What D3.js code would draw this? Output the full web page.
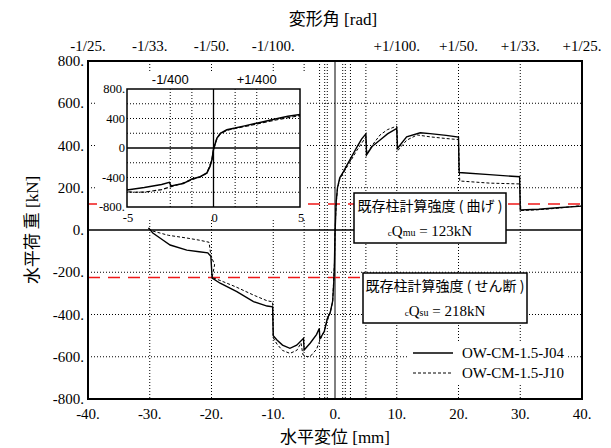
<!DOCTYPE html>
<html>
<head>
<meta charset="utf-8">
<script src="https://cdn.jsdelivr.net/npm/d3@7"></script>
<style>
  body { margin: 0; background: #fff; }
</style>
</head>
<body>
<div id="chart"></div>
<script>
// tick values and labels
const xTicks = [-40, -30, -20, -10, 0, 10, 20, 30, 40];
const yTicks = [-800, -600, -400, -200, 0, 200, 400, 600, 800];
const radTicks = [-40, -30, -20, -10, 10, 20, 30, 40];
const radLabels = ["-1/25.", "-1/33.", "-1/50.", "-1/100.", "+1/100.", "+1/50.", "+1/33.", "+1/25."];
const xGrid = [-30, -20, -10, -5, -2.5, -1.67, -1.25, 1.25, 1.67, 2.5, 5, 10, 20, 30];
const yGrid = [-600, -400, -200, 200, 400, 600];

// inset ticks
const insetXTicks = [-5, 0, 5];
const insetYTicks = [-800, -400, 0, 400, 800];
const insetXGrid = [-2.5, -1.25, 1.25, 2.5];
const insetYGrid = [-600, -400, -200, 200, 400, 600];
const insetRadTicks = [-2.5, 2.5];
const insetRadLabels = ["-1/400", "+1/400"];

// calculated strengths (kN)
const Qmu = 123;
const Qsu = -225;

// envelope curves [displacement mm, load kN]
const J04 = [
  [-30.2, 10], [-29.5, -14], [-28, -45], [-26.7, -71], [-24, -95], [-22, -103], [-20.6, -108],
  [-20.1, -125], [-19.9, -228], [-18.6, -252], [-15.9, -292], [-13.2, -339], [-11, -360],
  [-10.1, -364], [-10.0, -500], [-9.4, -521], [-8.5, -545], [-7.3, -560], [-6.2, -545],
  [-5.1, -513], [-5.0, -568], [-4.0, -535], [-3.0, -495], [-2.55, -466], [-2.45, -515],
  [-1.75, -482], [-1.25, -420], [-0.77, -390], [-0.38, -337], [-0.2, -250], [-0.09, -158],
  [0, -20], [0.1, 60], [0.2, 135], [0.4, 200], [0.77, 247], [1.25, 270], [1.8, 300],
  [2.5, 337], [3.5, 390], [4.3, 430], [5.0, 455], [5.1, 355], [6, 395], [7.3, 426],
  [8.5, 455], [10, 481], [10.1, 386], [11.6, 441], [13.8, 460], [15.4, 456], [18, 448],
  [20, 440], [20.1, 272], [25, 262], [29.9, 252], [30, 95], [33, 98], [36, 105], [40, 113]
];
const J10 = [
  [-30.2, 8], [-29.5, -5], [-27, -25], [-24, -38], [-22, -48], [-20.4, -58], [-20.1, -120],
  [-19.5, -165], [-19.9, -225], [-18.5, -240], [-16, -270], [-13.2, -308], [-11, -335],
  [-10.1, -340], [-10.0, -510], [-9.4, -540], [-8.5, -570], [-7.3, -584], [-6.2, -570],
  [-5.5, -535], [-5.2, -590], [-4.5, -600], [-4.0, -598], [-3.0, -565], [-2.5, -527],
  [-1.8, -480], [-1.25, -430], [-0.77, -392], [-0.38, -340], [-0.09, -160], [0, -20],
  [0.1, 60], [0.2, 130], [0.4, 195], [0.77, 240], [1.25, 265], [1.8, 292], [2.5, 325],
  [3.5, 375], [4.3, 410], [5.0, 440], [5.2, 360], [6, 400], [7.3, 450], [8.5, 475],
  [10, 492], [10.2, 377], [11.6, 425], [13.3, 450], [15.4, 441], [18, 433], [20, 428],
  [20.2, 232], [25, 222], [29.9, 218], [30.1, 92], [33, 96], [36, 103], [40, 116]
];

const SERIF = "Liberation Serif";
const SANS = "Liberation Sans";
const CJK = "Noto Sans CJK JP";

const W = 611, H = 448;
const svg = d3.select("#chart").append("svg")
  .attr("width", W).attr("height", H);

const x = d3.scaleLinear().domain([-40, 40]).range([88, 582]);
const y = d3.scaleLinear().domain([-800, 800]).range([399, 61]);

// helper: plain text label
function label(g, px, py, txt, font, size, anchor) {
  return g.append("text").attr("x", px).attr("y", py)
    .attr("font-family", font).style("font-family", font)
    .attr("font-size", size).attr("text-anchor", anchor || "middle")
    .attr("fill", "#000").text(txt);
}

// grid
const grid = svg.append("g").attr("stroke", "#000").attr("stroke-width", 1).attr("stroke-dasharray", "1,2");
grid.selectAll(".gx").data(xGrid).enter().append("line")
  .attr("x1", d => x(d)).attr("x2", d => x(d)).attr("y1", y(800)).attr("y2", y(-800));
grid.selectAll(".gy").data(yGrid).enter().append("line")
  .attr("x1", x(-40)).attr("x2", x(40)).attr("y1", d => y(d)).attr("y2", d => y(d));

// zero lines
svg.append("line").attr("x1", x(-40)).attr("x2", x(40)).attr("y1", y(0)).attr("y2", y(0))
  .attr("stroke", "#000").attr("stroke-width", 1.5);
svg.append("line").attr("x1", x(0)).attr("x2", x(0)).attr("y1", y(800)).attr("y2", y(-800))
  .attr("stroke", "#000").attr("stroke-width", 1);

// strength lines
svg.append("line").attr("x1", x(-40)).attr("x2", x(40)).attr("y1", y(Qmu)).attr("y2", y(Qmu))
  .attr("stroke", "#f01818").attr("stroke-width", 1.5).attr("stroke-dasharray", "12,8");
svg.append("line").attr("x1", x(-40)).attr("x2", x(5)).attr("y1", y(Qsu)).attr("y2", y(Qsu))
  .attr("stroke", "#f01818").attr("stroke-width", 1.5).attr("stroke-dasharray", "12,8");

// curves
const line = d3.line().x(d => x(d[0])).y(d => y(d[1]));
svg.append("path").datum(J04).attr("d", line)
  .attr("fill", "none").attr("stroke", "#000").attr("stroke-width", 1.4);
svg.append("path").datum(J10).attr("d", line)
  .attr("fill", "none").attr("stroke", "#000").attr("stroke-width", 1).attr("stroke-dasharray", "3,2");

// tick labels
const ticks = svg.append("g");
xTicks.forEach(d => label(ticks, x(d), y(-800) + 20, d + ".", SERIF, 15));
yTicks.forEach(d => label(ticks, x(-40) - 4, y(d) + 5, d + ".", SERIF, 15, "end"));
radTicks.forEach((d, i) => label(ticks, x(d), y(800) - 10, radLabels[i], SERIF, 15));

// titles
function title(px, py, cjk, rest, rot) {
  const t = svg.append("text").attr("font-size", 17).attr("text-anchor", "middle")
    .attr("font-family", SERIF).style("font-family", SERIF);
  if (rot) t.attr("transform", `translate(${px},${py}) rotate(-90)`);
  else t.attr("x", px).attr("y", py);
  t.append("tspan").attr("font-family", CJK).style("font-family", CJK).text(cjk);
  t.append("tspan").text(rest);
}
title(333, 25, "変形角", " [rad]");
title(335, 443, "水平変位", " [mm]");
title(38, 230, "水平荷 重", " [kN]", true);

// inset
const ix = d3.scaleLinear().domain([-5, 5]).range([127, 300]);
const iy = d3.scaleLinear().domain([-800, 800]).range([207, 89]);
const inset = svg.append("g");
inset.append("rect").attr("x", 97).attr("y", 73).attr("width", 209).attr("height", 146).attr("fill", "#fff");
inset.append("clipPath").attr("id", "iclip").append("rect")
  .attr("x", ix(-5)).attr("y", iy(800)).attr("width", ix(5) - ix(-5)).attr("height", iy(-800) - iy(800));
const ig = inset.append("g").attr("stroke", "#000").attr("stroke-width", 1).attr("stroke-dasharray", "1,2");
ig.selectAll(".ix").data(insetXGrid).enter().append("line")
  .attr("x1", d => ix(d)).attr("x2", d => ix(d)).attr("y1", iy(800)).attr("y2", iy(-800));
ig.selectAll(".iy").data(insetYGrid).enter().append("line")
  .attr("x1", ix(-5)).attr("x2", ix(5)).attr("y1", d => iy(d)).attr("y2", d => iy(d));
inset.append("line").attr("x1", ix(-5)).attr("x2", ix(5)).attr("y1", iy(0)).attr("y2", iy(0))
  .attr("stroke", "#000").attr("stroke-width", 1.3);
inset.append("line").attr("x1", ix(0)).attr("x2", ix(0)).attr("y1", iy(800)).attr("y2", iy(-800))
  .attr("stroke", "#000").attr("stroke-width", 1.3);
const iline = d3.line().x(d => ix(d[0])).y(d => iy(d[1]));
const ic = inset.append("g").attr("clip-path", "url(#iclip)");
ic.append("path").datum(J04).attr("d", iline)
  .attr("fill", "none").attr("stroke", "#000").attr("stroke-width", 1.5);
ic.append("path").datum(J10).attr("d", iline)
  .attr("fill", "none").attr("stroke", "#000").attr("stroke-width", 1.2).attr("stroke-dasharray", "4,2");
inset.append("rect").attr("x", ix(-5)).attr("y", iy(800))
  .attr("width", ix(5) - ix(-5)).attr("height", iy(-800) - iy(800))
  .attr("fill", "none").attr("stroke", "#000").attr("stroke-width", 1.5);
insetYTicks.forEach(d => label(inset, ix(-5) - 2, iy(d) + 4, d + (Math.abs(d) === 800 ? "." : ""), SERIF, 12.5, "end"));
insetXTicks.forEach(d => label(inset, ix(d) + 1, iy(-800) + 15, d, SERIF, 12.5));
insetRadTicks.forEach((d, i) => label(inset, ix(d), iy(800) - 5, insetRadLabels[i], SANS, 13));

// annotation boxes
function note(bx, by, bw, bh, head, sub, val) {
  const g = svg.append("g");
  g.append("rect").attr("x", bx).attr("y", by).attr("width", bw).attr("height", bh)
    .attr("fill", "#fff").attr("stroke", "#000").attr("stroke-width", 1.5);
  label(g, bx + bw / 2, by + 18, head, CJK, 14);
  const t = label(g, bx + bw / 2, by + 43, "", SERIF, 15);
  t.append("tspan").attr("font-size", 9).text("c");
  t.append("tspan").text("Q");
  t.append("tspan").attr("font-size", 10).text(sub);
  t.append("tspan").text(" = " + val + "kN");
}
note(354, 193, 152, 50, "既存柱計算強度 ( 曲げ )", "mu", Qmu);
note(363, 273, 164, 50, "既存柱計算強度 ( せん断 )", "su", 218);

// legend
const lg = svg.append("g");
lg.append("rect").attr("x", 407).attr("y", 341).attr("width", 161).attr("height", 44).attr("fill", "#fff");
lg.append("line").attr("x1", 413).attr("x2", 453).attr("y1", 353).attr("y2", 353)
  .attr("stroke", "#000").attr("stroke-width", 1.4);
lg.append("line").attr("x1", 413).attr("x2", 453).attr("y1", 373).attr("y2", 373)
  .attr("stroke", "#000").attr("stroke-width", 1).attr("stroke-dasharray", "3,2");
label(lg, 462, 358, "OW-CM-1.5-J04", SERIF, 15, "start");
label(lg, 462, 378, "OW-CM-1.5-J10", SERIF, 15, "start");

// frame
svg.append("rect").attr("x", x(-40)).attr("y", y(800))
  .attr("width", x(40) - x(-40)).attr("height", y(-800) - y(800))
  .attr("fill", "none").attr("stroke", "#000").attr("stroke-width", 2);
</script>
</body>
</html>
